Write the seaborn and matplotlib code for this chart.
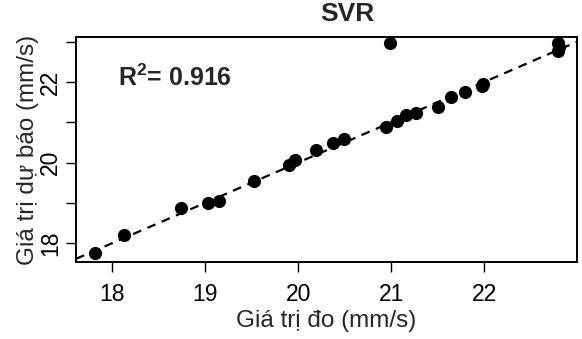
import numpy as np
import pandas as pd
import matplotlib
matplotlib.use("Agg")
import matplotlib.pyplot as plt
import seaborn as sns

# measured vs predicted (mm/s)
measured = [17.81, 18.13, 18.74, 19.03, 19.15, 19.53, 19.90, 19.97, 20.19, 20.38,
            20.49, 20.94, 21.06, 21.16, 21.27, 21.50, 21.64, 21.79, 21.98, 21.99,
            20.99, 22.80, 22.80, 22.81]
predicted = [17.76, 18.19, 18.88, 19.00, 19.04, 19.54, 19.95, 20.06, 20.32, 20.49,
             20.58, 20.89, 21.04, 21.19, 21.24, 21.38, 21.62, 21.75, 21.90, 21.95,
             22.98, 22.96, 22.78, 22.87]

x_ticks = [18, 19, 20, 21, 22]
y_ticks = [18, 19, 20, 21, 22, 23]
y_ticklabels = ["18", "", "20", "", "22", ""]

title = "SVR"
r2_text = r"R$^{2}$= 0.916"
x_label = "Giá trị đo (mm/s)"
y_label = "Giá trị dự báo (mm/s)"

df = pd.DataFrame({"measured": measured, "predicted": predicted})

sns.set_style("ticks")
plt.rcParams["font.family"] = ["Liberation Sans", "DejaVu Sans"]
plt.rcParams["mathtext.fontset"] = "custom"
plt.rcParams["mathtext.rm"] = "Liberation Sans:bold"
plt.rcParams["mathtext.it"] = "Liberation Sans:bold"

fig = plt.figure(figsize=(5.82, 3.39), dpi=100)
ax = fig.add_axes([0.1306, 0.227, 0.8608, 0.664])

# 1:1 reference line
ax.axline((18, 18), slope=1, color="black", lw=1.6, ls=(0, (4, 3)), zorder=1)
sns.scatterplot(data=df, x="measured", y="predicted", ax=ax, color="black",
                s=90, edgecolor="black", linewidth=0, zorder=2)

ax.set_xlim(17.61, 23.0)
ax.set_ylim(17.53, 23.12)
ax.set_xticks(x_ticks)
ax.set_xticklabels([str(t) for t in x_ticks])
ax.set_yticks(y_ticks)
ax.set_yticklabels(y_ticklabels, rotation=90, va="center")
ax.tick_params(direction="out", length=7, width=1, labelsize=16.5, colors="black")
ax.tick_params(axis="x", pad=8)
ax.tick_params(axis="y", pad=3)

for sp in ax.spines.values():
    sp.set_linewidth(1.4)
    sp.set_color("black")

ax.set_xlabel(x_label, fontsize=17.5, labelpad=3)
ax.set_ylabel(y_label, fontsize=17.5, labelpad=0)

ax.text(0.084, 0.818, r2_text, transform=ax.transAxes, fontsize=18,
        fontweight="bold", va="center", ha="left")
fig.text(0.597, 0.958, title, fontsize=19, fontweight="bold", ha="center", va="center")

fig.savefig("out.png", dpi=100)
